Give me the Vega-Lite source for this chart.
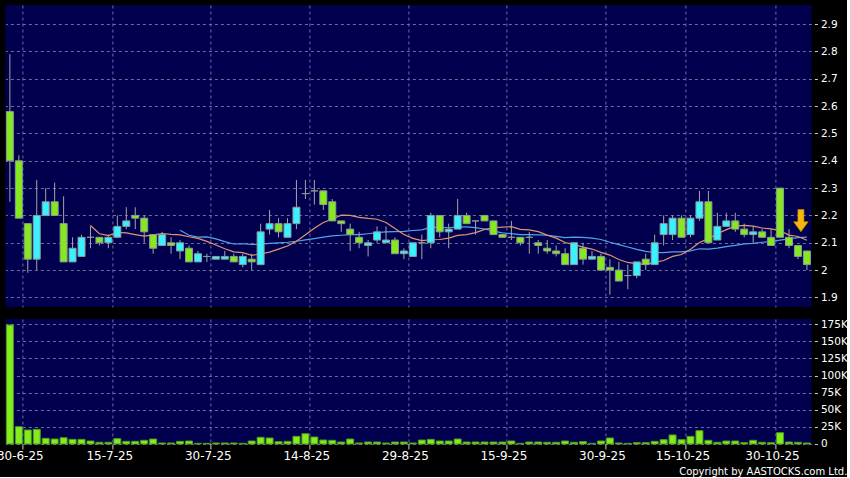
{
  "$schema": "https://vega.github.io/schema/vega-lite/v6.json",
  "background": "#000000",
  "padding": {"left": -4.6, "top": 5, "right": 0, "bottom": 0},
  "autosize": {"type": "pad"},
  "spacing": 12,
  "title": {"text": "Copyright by AASTOCKS.com Ltd.", "orient": "bottom", "anchor": "end", "color": "#FFFFFF", "font": "DejaVu Sans", "fontSize": 10, "fontWeight": "normal", "offset": 5},
  "datasets": {
    "k": [
      {"d":"2025-06-26","o":2.58,"h":2.79,"l":2.25,"c":2.40,"v":174000},
      {"d":"2025-06-27","o":2.40,"h":2.42,"l":2.19,"c":2.19,"v":25300},
      {"d":"2025-06-30","o":2.17,"h":2.17,"l":1.99,"c":2.04,"v":20500},
      {"d":"2025-07-02","o":2.04,"h":2.33,"l":2.00,"c":2.20,"v":21500},
      {"d":"2025-07-03","o":2.20,"h":2.30,"l":2.20,"c":2.25,"v":8300},
      {"d":"2025-07-04","o":2.25,"h":2.32,"l":2.20,"c":2.20,"v":7300},
      {"d":"2025-07-07","o":2.17,"h":2.27,"l":2.03,"c":2.03,"v":9200},
      {"d":"2025-07-08","o":2.03,"h":2.12,"l":2.03,"c":2.08,"v":6800},
      {"d":"2025-07-09","o":2.05,"h":2.13,"l":2.05,"c":2.12,"v":6800},
      {"d":"2025-07-10","o":2.12,"h":2.16,"l":2.08,"c":2.12,"v":4400},
      {"d":"2025-07-11","o":2.12,"h":2.12,"l":2.09,"c":2.10,"v":2500},
      {"d":"2025-07-14","o":2.10,"h":2.13,"l":2.08,"c":2.12,"v":2500},
      {"d":"2025-07-15","o":2.12,"h":2.20,"l":2.12,"c":2.16,"v":7800},
      {"d":"2025-07-16","o":2.16,"h":2.23,"l":2.15,"c":2.18,"v":3900},
      {"d":"2025-07-17","o":2.20,"h":2.23,"l":2.15,"c":2.19,"v":3900},
      {"d":"2025-07-18","o":2.19,"h":2.20,"l":2.10,"c":2.14,"v":5400},
      {"d":"2025-07-21","o":2.13,"h":2.13,"l":2.06,"c":2.08,"v":7300},
      {"d":"2025-07-22","o":2.09,"h":2.14,"l":2.09,"c":2.13,"v":1500},
      {"d":"2025-07-23","o":2.10,"h":2.12,"l":2.06,"c":2.09,"v":1500},
      {"d":"2025-07-24","o":2.07,"h":2.11,"l":2.04,"c":2.10,"v":3900},
      {"d":"2025-07-25","o":2.08,"h":2.09,"l":2.03,"c":2.03,"v":4400},
      {"d":"2025-07-28","o":2.03,"h":2.07,"l":2.03,"c":2.06,"v":1000},
      {"d":"2025-07-29","o":2.05,"h":2.06,"l":2.03,"c":2.05,"v":1000},
      {"d":"2025-07-30","o":2.04,"h":2.05,"l":2.04,"c":2.05,"v":1500},
      {"d":"2025-07-31","o":2.04,"h":2.07,"l":2.04,"c":2.05,"v":1500},
      {"d":"2025-08-01","o":2.05,"h":2.06,"l":2.03,"c":2.03,"v":1500},
      {"d":"2025-08-04","o":2.02,"h":2.06,"l":2.01,"c":2.05,"v":1000},
      {"d":"2025-08-05","o":2.04,"h":2.06,"l":2.00,"c":2.03,"v":4400},
      {"d":"2025-08-06","o":2.02,"h":2.17,"l":2.02,"c":2.14,"v":9800},
      {"d":"2025-08-07","o":2.15,"h":2.22,"l":2.13,"c":2.17,"v":8800},
      {"d":"2025-08-08","o":2.17,"h":2.19,"l":2.12,"c":2.14,"v":3400},
      {"d":"2025-08-11","o":2.12,"h":2.19,"l":2.12,"c":2.17,"v":3900},
      {"d":"2025-08-12","o":2.17,"h":2.33,"l":2.15,"c":2.23,"v":11200},
      {"d":"2025-08-13","o":2.28,"h":2.33,"l":2.26,"c":2.28,"v":15000},
      {"d":"2025-08-14","o":2.29,"h":2.33,"l":2.24,"c":2.29,"v":10200},
      {"d":"2025-08-15","o":2.29,"h":2.29,"l":2.22,"c":2.24,"v":5800},
      {"d":"2025-08-18","o":2.25,"h":2.26,"l":2.18,"c":2.18,"v":5400},
      {"d":"2025-08-19","o":2.18,"h":2.18,"l":2.14,"c":2.17,"v":2900},
      {"d":"2025-08-20","o":2.15,"h":2.17,"l":2.07,"c":2.13,"v":7300},
      {"d":"2025-08-21","o":2.12,"h":2.14,"l":2.08,"c":2.10,"v":1500},
      {"d":"2025-08-22","o":2.09,"h":2.11,"l":2.05,"c":2.10,"v":2900},
      {"d":"2025-08-25","o":2.11,"h":2.16,"l":2.10,"c":2.14,"v":2900},
      {"d":"2025-08-26","o":2.10,"h":2.16,"l":2.10,"c":2.11,"v":1500},
      {"d":"2025-08-27","o":2.11,"h":2.12,"l":2.06,"c":2.06,"v":2900},
      {"d":"2025-08-28","o":2.06,"h":2.08,"l":2.04,"c":2.07,"v":2900},
      {"d":"2025-08-29","o":2.05,"h":2.10,"l":2.05,"c":2.10,"v":1500},
      {"d":"2025-09-01","o":2.10,"h":2.13,"l":2.04,"c":2.10,"v":5800},
      {"d":"2025-09-02","o":2.10,"h":2.21,"l":2.08,"c":2.20,"v":6800},
      {"d":"2025-09-03","o":2.20,"h":2.20,"l":2.12,"c":2.14,"v":4400},
      {"d":"2025-09-04","o":2.14,"h":2.17,"l":2.08,"c":2.15,"v":4400},
      {"d":"2025-09-05","o":2.15,"h":2.26,"l":2.15,"c":2.20,"v":7300},
      {"d":"2025-09-08","o":2.20,"h":2.21,"l":2.17,"c":2.17,"v":2900},
      {"d":"2025-09-09","o":2.18,"h":2.18,"l":2.13,"c":2.18,"v":2900},
      {"d":"2025-09-10","o":2.20,"h":2.20,"l":2.18,"c":2.18,"v":2900},
      {"d":"2025-09-11","o":2.18,"h":2.18,"l":2.13,"c":2.13,"v":2900},
      {"d":"2025-09-12","o":2.13,"h":2.13,"l":2.12,"c":2.12,"v":2900},
      {"d":"2025-09-15","o":2.12,"h":2.18,"l":2.11,"c":2.12,"v":4400},
      {"d":"2025-09-16","o":2.12,"h":2.12,"l":2.09,"c":2.10,"v":1000},
      {"d":"2025-09-17","o":2.12,"h":2.14,"l":2.06,"c":2.12,"v":2900},
      {"d":"2025-09-18","o":2.10,"h":2.11,"l":2.06,"c":2.09,"v":2900},
      {"d":"2025-09-19","o":2.08,"h":2.11,"l":2.06,"c":2.07,"v":2500},
      {"d":"2025-09-22","o":2.07,"h":2.09,"l":2.05,"c":2.06,"v":2500},
      {"d":"2025-09-23","o":2.06,"h":2.08,"l":2.02,"c":2.02,"v":4400},
      {"d":"2025-09-24","o":2.02,"h":2.10,"l":2.02,"c":2.10,"v":2500},
      {"d":"2025-09-25","o":2.08,"h":2.10,"l":2.02,"c":2.04,"v":3500},
      {"d":"2025-09-26","o":2.04,"h":2.07,"l":2.04,"c":2.05,"v":1000},
      {"d":"2025-09-29","o":2.05,"h":2.06,"l":2.00,"c":2.00,"v":4400},
      {"d":"2025-09-30","o":2.01,"h":2.04,"l":1.91,"c":2.00,"v":8800},
      {"d":"2025-10-02","o":2.00,"h":2.03,"l":1.96,"c":1.96,"v":1500},
      {"d":"2025-10-03","o":1.98,"h":2.02,"l":1.93,"c":1.98,"v":1000},
      {"d":"2025-10-06","o":1.98,"h":2.03,"l":1.97,"c":2.03,"v":2000},
      {"d":"2025-10-08","o":2.04,"h":2.06,"l":2.00,"c":2.02,"v":2000},
      {"d":"2025-10-09","o":2.02,"h":2.13,"l":2.02,"c":2.10,"v":3900},
      {"d":"2025-10-10","o":2.13,"h":2.20,"l":2.09,"c":2.17,"v":6300},
      {"d":"2025-10-13","o":2.13,"h":2.20,"l":2.11,"c":2.19,"v":13200},
      {"d":"2025-10-14","o":2.19,"h":2.20,"l":2.12,"c":2.12,"v":6300},
      {"d":"2025-10-15","o":2.13,"h":2.20,"l":2.12,"c":2.19,"v":11200},
      {"d":"2025-10-16","o":2.19,"h":2.29,"l":2.18,"c":2.25,"v":19500},
      {"d":"2025-10-17","o":2.25,"h":2.29,"l":2.10,"c":2.10,"v":5400},
      {"d":"2025-10-20","o":2.11,"h":2.21,"l":2.11,"c":2.16,"v":2500},
      {"d":"2025-10-21","o":2.16,"h":2.21,"l":2.16,"c":2.18,"v":4400},
      {"d":"2025-10-22","o":2.18,"h":2.21,"l":2.14,"c":2.15,"v":4400},
      {"d":"2025-10-23","o":2.15,"h":2.17,"l":2.12,"c":2.13,"v":2000},
      {"d":"2025-10-24","o":2.13,"h":2.16,"l":2.10,"c":2.14,"v":5400},
      {"d":"2025-10-27","o":2.14,"h":2.15,"l":2.12,"c":2.12,"v":2500},
      {"d":"2025-10-28","o":2.12,"h":2.15,"l":2.09,"c":2.09,"v":2000},
      {"d":"2025-10-30","o":2.30,"h":2.30,"l":2.12,"c":2.12,"v":16500},
      {"d":"2025-10-31","o":2.12,"h":2.15,"l":2.08,"c":2.09,"v":2900},
      {"d":"2025-11-03","o":2.09,"h":2.09,"l":2.04,"c":2.05,"v":2500},
      {"d":"2025-11-04","o":2.07,"h":2.07,"l":2.00,"c":2.02,"v":1500}
    ],
    "arrow": [{"d":"2025-11-04","p":2.181}]
  },
  "vconcat": [
    {
      "width": 806,
      "height": 302,
      "data": {"name": "k"},
      "encoding": {
        "x": {"field": "d", "type": "ordinal", "sort": "ascending",
              "scale": {"type": "band", "paddingInner": 0, "paddingOuter": 0},
              "axis": {"labels": false, "ticks": false, "domain": false, "title": null, "grid": true, "bandPosition": 0,
                       "values": ["2025-06-30","2025-07-15","2025-07-30","2025-08-14","2025-08-29","2025-09-15","2025-09-30","2025-10-15","2025-10-30"]}}
      },
      "layer": [
        {
          "transform": [
            {"window": [{"op": "mean", "field": "c", "as": "ma"}, {"op": "count", "as": "n"}], "frame": [-19, 0], "sort": [{"field": "d"}]},
            {"filter": "datum.n >= 20"}
          ],
          "mark": {"type": "line", "color": "#4FA6E6", "strokeWidth": 1.2},
          "encoding": {
            "y": {"field": "ma", "type": "quantitative",
                  "scale": {"domain": [1.865, 2.97], "nice": false, "zero": false},
                  "axis": {"orient": "right", "values": [1.9, 2.0, 2.1, 2.2, 2.3, 2.4, 2.5, 2.6, 2.7, 2.8, 2.9],
                           "labelExpr": "format(datum.value, '.1f') == '2.0' ? '2' : format(datum.value, '.1f')",
                           "labelOverlap": false, "labelBound": false, "labelFontSize": 10.5,
                           "offset": 3, "tickSize": 3, "labelPadding": 3, "grid": true, "title": null, "domain": false}}
          }
        },
        {
          "transform": [
            {"window": [{"op": "mean", "field": "c", "as": "ma"}, {"op": "count", "as": "n"}], "frame": [-9, 0], "sort": [{"field": "d"}]},
            {"filter": "datum.n >= 10"}
          ],
          "mark": {"type": "line", "color": "#E39470", "strokeWidth": 1.2},
          "encoding": {"y": {"field": "ma", "type": "quantitative",
                  "axis": {"orient": "right", "values": [1.9, 2.0, 2.1, 2.2, 2.3, 2.4, 2.5, 2.6, 2.7, 2.8, 2.9],
                           "labelExpr": "format(datum.value, '.1f') == '2.0' ? '2' : format(datum.value, '.1f')",
                           "labelOverlap": false, "labelBound": false, "labelFontSize": 10.5,
                           "offset": 3, "tickSize": 3, "labelPadding": 3, "grid": true, "title": null, "domain": false}}}
        },
        {
          "mark": {"type": "rule", "color": "#A6A6A6", "strokeWidth": 1},
          "encoding": {"y": {"field": "l", "type": "quantitative",
                  "axis": {"orient": "right", "values": [1.9, 2.0, 2.1, 2.2, 2.3, 2.4, 2.5, 2.6, 2.7, 2.8, 2.9],
                           "labelExpr": "format(datum.value, '.1f') == '2.0' ? '2' : format(datum.value, '.1f')",
                           "labelOverlap": false, "labelBound": false, "labelFontSize": 10.5,
                           "offset": 3, "tickSize": 3, "labelPadding": 3, "grid": true, "title": null, "domain": false}},
                       "y2": {"field": "h"}}
        },
        {
          "mark": {"type": "bar", "size": 7, "stroke": "#8C9A96", "strokeWidth": 1},
          "encoding": {
            "y": {"field": "o", "type": "quantitative",
                  "axis": {"orient": "right", "values": [1.9, 2.0, 2.1, 2.2, 2.3, 2.4, 2.5, 2.6, 2.7, 2.8, 2.9],
                           "labelExpr": "format(datum.value, '.1f') == '2.0' ? '2' : format(datum.value, '.1f')",
                           "labelOverlap": false, "labelBound": false, "labelFontSize": 10.5,
                           "offset": 3, "tickSize": 3, "labelPadding": 3, "grid": true, "title": null, "domain": false}},
            "y2": {"field": "c"},
            "fill": {"condition": [{"test": "datum.c > datum.o", "value": "#38F2FF"}, {"test": "datum.c < datum.o", "value": "#86E81E"}], "value": "#B0B0B0"}
          }
        },
        {
          "data": {"name": "arrow"},
          "mark": {"type": "point", "filled": true, "size": 500, "xOffset": -6, "fill": "#F6B60A", "stroke": "#C88A00", "strokeWidth": 0.6, "opacity": 1,
                   "shape": "M -0.27 -1 L 0.27 -1 L 0.27 0.1 L 0.65 0.1 L 0 1 L -0.65 0.1 L -0.27 0.1 Z"},
          "encoding": {"y": {"field": "p", "type": "quantitative",
                  "axis": {"orient": "right", "values": [1.9, 2.0, 2.1, 2.2, 2.3, 2.4, 2.5, 2.6, 2.7, 2.8, 2.9],
                           "labelExpr": "format(datum.value, '.1f') == '2.0' ? '2' : format(datum.value, '.1f')",
                           "labelOverlap": false, "labelBound": false, "labelFontSize": 10.5,
                           "offset": 3, "tickSize": 3, "labelPadding": 3, "grid": true, "title": null, "domain": false}}}
        }
      ]
    },
    {
      "width": 806,
      "height": 125,
      "data": {"name": "k"},
      "mark": {"type": "bar", "size": 7, "fill": "#84EC1E", "stroke": "#4E9A1C", "strokeWidth": 1},
      "encoding": {
        "x": {"field": "d", "type": "ordinal", "sort": "ascending",
              "scale": {"type": "band", "paddingInner": 0, "paddingOuter": 0},
              "axis": {"title": null, "grid": true, "bandPosition": 0, "domain": false, "labelAngle": 0, "tickSize": 5, "labelPadding": 2, "labelOffset": -7.5,
                       "labelFontSize": 12, "labelFlush": false, "labelBound": false,
                       "values": ["2025-06-30","2025-07-15","2025-07-30","2025-08-14","2025-08-29","2025-09-15","2025-09-30","2025-10-15","2025-10-30"],
                       "labelExpr": "toNumber(slice(datum.value,8,10)) + '-' + toNumber(slice(datum.value,5,7)) + '-' + slice(datum.value,2,4)"}},
        "y": {"field": "v", "type": "quantitative",
              "scale": {"domain": [0, 182700], "nice": false},
              "axis": {"orient": "right", "values": [0, 25000, 50000, 75000, 100000, 125000, 150000, 175000],
                       "labelExpr": "datum.value == 0 ? '0' : (datum.value / 1000) + 'K'",
                       "labelOverlap": false, "labelBound": false, "labelFontSize": 10.5,
                       "offset": 3, "tickSize": 3, "labelPadding": 3, "grid": true, "title": null, "domain": false}}
      }
    }
  ],
  "config": {
    "view": {"fill": "#00004F", "stroke": null},
    "axis": {"labelColor": "#FFFFFF", "labelFont": "DejaVu Sans", "labelFontSize": 12, "tickColor": "#D0D0D0",
             "gridColor": "#6E6E9E", "gridDash": [3, 3], "gridWidth": 1, "domain": false, "labelOverlap": false}
  }
}
